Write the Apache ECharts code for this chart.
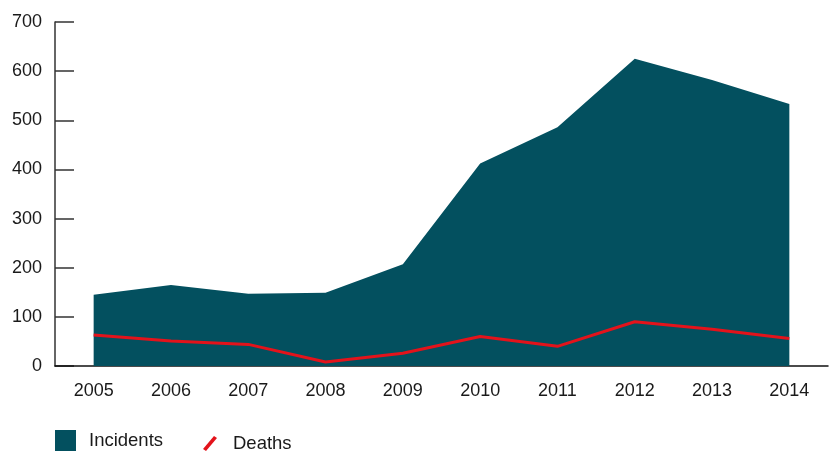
<!DOCTYPE html>
<html>
<head>
<meta charset="utf-8">
<script src="https://cdn.jsdelivr.net/npm/echarts@6/dist/echarts.min.js"></script>
<style>html,body{margin:0;padding:0;background:#fff}#c{width:830px;height:451px}</style>
</head>
<body>
<div id="c"></div>
<script>
const years = ['2005','2006','2007','2008','2009','2010','2011','2012','2013','2014'];
const incidents = [145, 165, 147, 149, 207, 412, 486, 625, 582, 533];
const deaths = [63, 51, 44, 8, 26, 60, 40, 90, 75, 56];
const yTicks = [0, 100, 200, 300, 400, 500, 600, 700];

const FONT = 'Liberation Sans, Arial, Helvetica, sans-serif';
const chart = echarts.init(document.getElementById('c'));
chart.setOption({
  animation: false,
  grid: { left: 55, right: 2, top: 22, bottom: 85 },
  legend: [
    {
      data: [{ name: 'Incidents', icon: 'rect' }],
      left: 55, top: 430, padding: 0, itemWidth: 21, itemHeight: 21,
      textStyle: { fontFamily: FONT, fontSize: 18.5, color: '#1a1a1a', padding: [0, 0, 0, 8] }
    },
    {
      data: [{ name: 'Deaths', icon: 'path://M0,13 L11,0 L14,2 L3,15 Z' }],
      left: 203, top: 434, padding: 0, itemWidth: 14, itemHeight: 16,
      textStyle: { fontFamily: FONT, fontSize: 18.5, color: '#1a1a1a', padding: [3, 0, 0, 11] }
    }
  ],
  xAxis: {
    type: 'category',
    data: years,
    boundaryGap: true,
    axisLine: { show: true, lineStyle: { color: '#111', width: 1.5 } },
    axisTick: { show: false },
    axisLabel: { fontFamily: FONT, fontSize: 18, color: '#1a1a1a', margin: 16 },
    z: 1
  },
  yAxis: {
    type: 'value',
    min: 0, max: 700, interval: 100,
    splitLine: { show: false },
    axisLine: { show: true, lineStyle: { color: '#333', width: 1.5 } },
    axisTick: { show: true, inside: true, length: 19, lineStyle: { color: '#333', width: 1.5 } },
    axisLabel: {
      fontFamily: FONT, fontSize: 18, color: '#1a1a1a', margin: 13, padding: [4, 0, 0, 0],
      formatter: v => yTicks.includes(v) ? String(v) : ''
    }
  },
  series: [
    {
      name: 'Incidents',
      type: 'line',
      data: incidents,
      symbol: 'none',
      itemStyle: { color: '#03505f' },
      lineStyle: { width: 0, color: '#03505f' },
      areaStyle: { color: '#03505f', opacity: 1 },
      z: 2
    },
    {
      name: 'Deaths',
      type: 'line',
      data: deaths,
      symbol: 'none',
      itemStyle: { color: '#e3131b' },
      lineStyle: { width: 3, color: '#e3131b' },
      z: 3
    }
  ]
});
</script>
</body>
</html>
